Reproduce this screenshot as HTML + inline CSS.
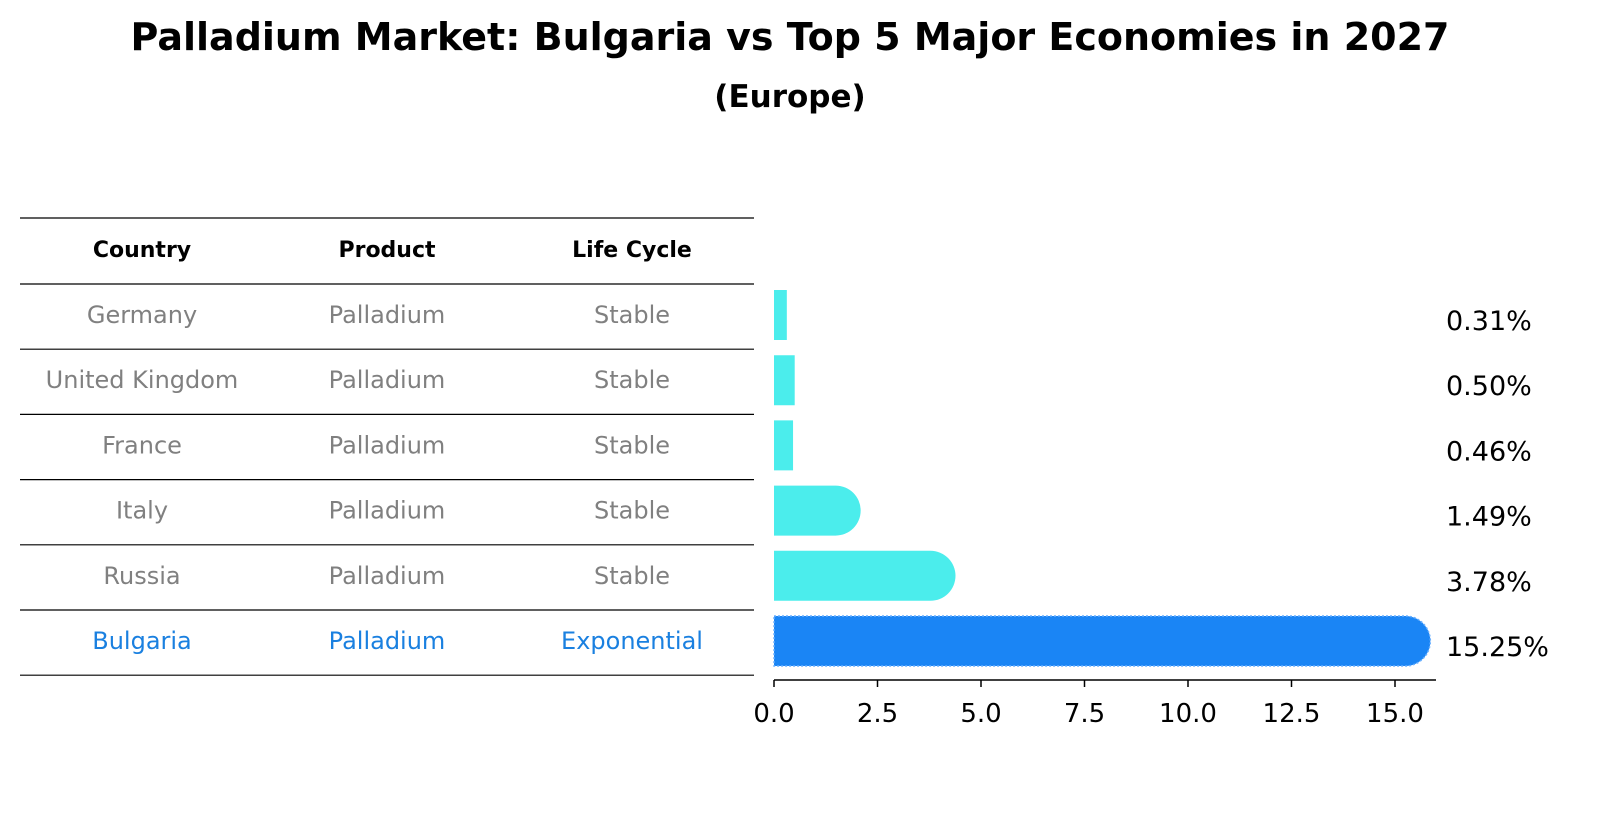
<!DOCTYPE html>
<html><head><meta charset="utf-8"><style>
body{margin:0;background:#fff;font-family:"Liberation Sans","DejaVu Sans",sans-serif;}
svg text{font-family:"DejaVu Sans","Liberation Sans",sans-serif;}
</style></head><body>
<svg width="1604" height="823" viewBox="0 0 1604 823">
<text x="790" y="50" text-anchor="middle" font-size="38" font-weight="bold">Palladium Market: Bulgaria vs Top 5 Major Economies in 2027</text>
<text x="790" y="107" text-anchor="middle" font-size="31" font-weight="bold">(Europe)</text>
<g id="table"></g>
<g id="bars"></g>
</svg>
<script>
const countries=["Germany","United Kingdom","France","Italy","Russia","Bulgaria"];
const products=["Palladium","Palladium","Palladium","Palladium","Palladium","Palladium"];
const cycles=["Stable","Stable","Stable","Stable","Stable","Exponential"];
const values=[0.31,0.50,0.46,1.49,3.78,15.25];
const valueLabels=["0.31%","0.50%","0.46%","1.49%","3.78%","15.25%"];
const ticks=[0,2.5,5,7.5,10,12.5,15];
const tickLabels=["0.0","2.5","5.0","7.5","10.0","12.5","15.0"];
const NS="http://www.w3.org/2000/svg";
function mk(tag,attrs,parent){const e=document.createElementNS(NS,tag);for(const k in attrs)e.setAttribute(k,attrs[k]);parent.appendChild(e);return e;}
const x=v=>774+v*41.4;
const rowY=i=>315+i*65.2;
const tbl=document.getElementById('table'), bars=document.getElementById('bars');
const colX=[142,387,632];
["Country","Product","Life Cycle"].forEach((h,j)=>{const t=mk('text',{x:colX[j],y:257,'text-anchor':'middle','font-size':'22','font-weight':'bold'},tbl);t.textContent=h;

});
for(let k=0;k<=7;k++){const yy=k==0?218:(k==1?284:284+(k-1)*65.2);const l=mk('line',{x1:20,x2:754,y1:yy,y2:yy,stroke:'#000','stroke-width':1.2},tbl);

}
countries.forEach((c,i)=>{const col=i==5?'#1a80e0':'#808080';[c,products[i],cycles[i]].forEach((s,j)=>{const t=mk('text',{x:colX[j],y:rowY(i)+8,'text-anchor':'middle','font-size':'24',fill:col},tbl);t.textContent=s;

});});
const h=50,r=25;
values.forEach((v,i)=>{const cy=rowY(i),x0=x(0),x1=x(v),w=x1-x0;const bulg=i==5;const fill=bulg?'#1a85f5':'#4bedec';
let d;
if(w>r){d=`M${x0},${cy-h/2}H${x1}A${r},${r} 0 0 1 ${x1},${cy+h/2}H${x0}Z`;}
else d=`M${x0},${cy-h/2}H${x1}V${cy+h/2}H${x0}Z`;
const p=mk('path',{d:d,fill:fill},bars);
if(bulg){p.setAttribute('stroke','#6ab0ff');p.setAttribute('stroke-width','1.5');p.setAttribute('stroke-dasharray','2 2');}


const t=mk('text',{x:1446,y:cy+15,'font-size':'27',fill:'#000'},bars);
t.textContent=valueLabels[i];


});
const ax=mk('line',{x1:774,x2:1436,y1:680,y2:680,stroke:'#000','stroke-width':1.5},bars);


ticks.forEach((tv,k)=>{const tl=mk('line',{x1:x(tv),x2:x(tv),y1:680,y2:687,stroke:'#000','stroke-width':1.5},bars);


const t=mk('text',{x:x(tv),y:722,'text-anchor':'middle','font-size':'26'},bars);t.textContent=tickLabels[k];

});
</script>
</body></html>
